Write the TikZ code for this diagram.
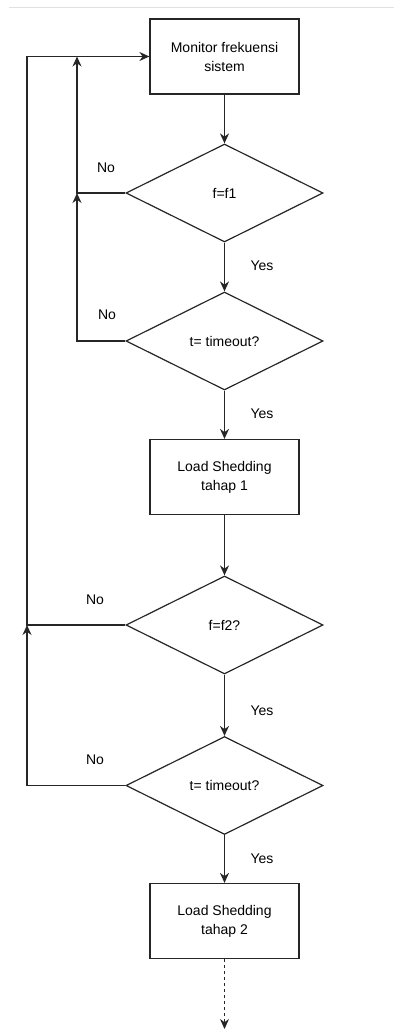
\documentclass[tikz,border=0pt]{standalone}
\usepackage{fontspec}
\setmainfont{Liberation Sans}
\usetikzlibrary{shapes.geometric,arrows.meta}
\begin{document}
\begin{tikzpicture}[x=1pt,y=-1pt,
  font=\fontsize{14}{19}\selectfont,
  proc/.style={draw=black!85,line width=1.2pt,rectangle,minimum width=149pt,minimum height=75pt,inner sep=0pt,align=center},
  dec/.style={draw=black!85,line width=1.2pt,diamond,minimum width=197pt,minimum height=98pt,inner sep=0pt,align=center},
  conn/.style={draw=black!85,line width=1.2pt,-{Stealth[length=10pt,width=9pt]}},
  lbl/.style={inner sep=0pt}]
\useasboundingbox (0,0) rectangle (394,1030);
\draw[black!12,line width=1pt] (9,8) -- (394,8);
\node[proc] (b1) at (224.5,56.5) {Monitor frekuensi\\sistem};
\node[dec] (d1) at (224.5,193) {f=f1};
\node[dec] (d2) at (224.5,341) {t= timeout?};
\node[proc] (b2) at (224.5,477) {Load Shedding\\tahap 1};
\node[dec] (d3) at (224.5,625) {f=f2?};
\node[dec] (d4) at (224.5,785.5) {t= timeout?};
\node[proc] (b3) at (224.5,921) {Load Shedding\\tahap 2};
\coordinate (j1) at (77,56.5);
\coordinate (j2) at (77,193);
\coordinate (j3) at (27,625);
\coordinate (e) at (224.5,1029);
\draw[conn] (b1) -- (d1);
\draw[conn] (d1) -- (d2);
\draw[conn] (d2) -- (b2);
\draw[conn] (b2) -- (d3);
\draw[conn] (d3) -- (d4);
\draw[conn] (d4) -- (b3);
\draw[conn,dash pattern=on 3pt off 3pt] (b3) -- (e);
\draw[conn] (d1.west) -| (j1);
\draw[conn] (d2.west) -| (j2);
\draw[conn] (d3.west) -| (27,56.5) -- (b1.west);
\draw[conn] (d4.west) -| (j3);
\node[lbl] at (262,266) {Yes};
\node[lbl] at (262,414) {Yes};
\node[lbl] at (262,711) {Yes};
\node[lbl] at (262,859) {Yes};
\node[lbl] at (106,168) {No};
\node[lbl] at (107,315) {No};
\node[lbl] at (95,600) {No};
\node[lbl] at (95,760) {No};
\end{tikzpicture}
\end{document}
